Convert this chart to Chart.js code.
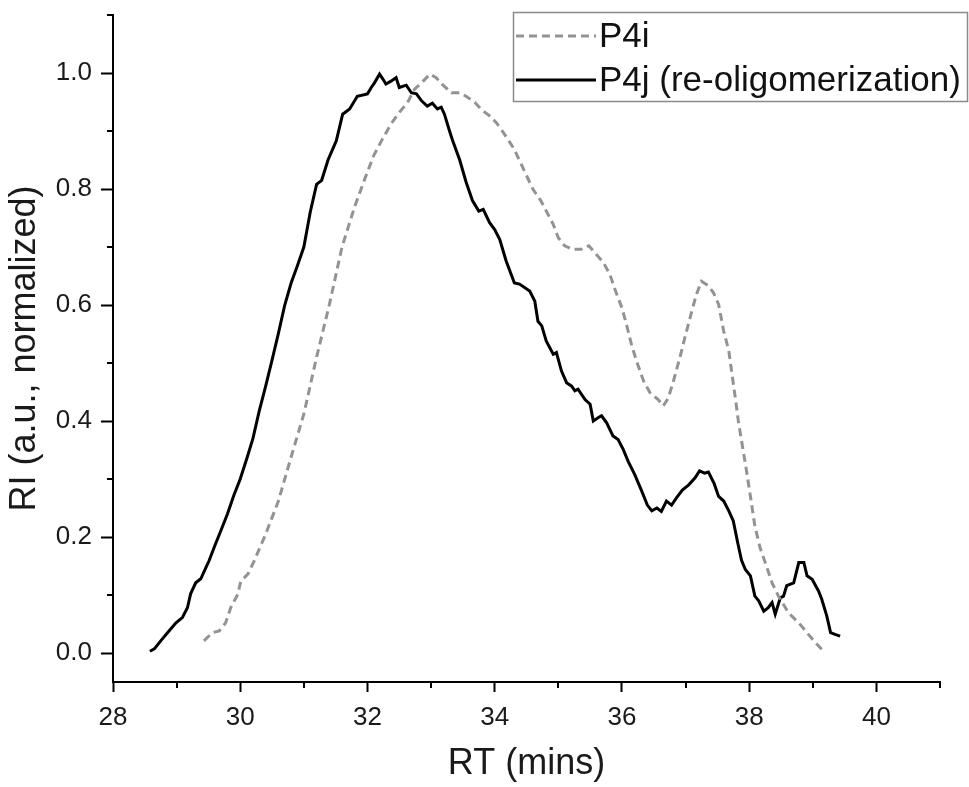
<!DOCTYPE html>
<html>
<head>
<meta charset="utf-8">
<script src="https://cdn.jsdelivr.net/npm/chart.js@4.4.1/dist/chart.umd.min.js"></script>
<style>
  html, body { margin: 0; padding: 0; background: #fff; }
  #wrap { width: 969px; height: 787px; }
</style>
</head>
<body>
<div id="wrap"><canvas id="rt_chart"></canvas></div>
<script>
// P4j (re-oligomerization), solid black
const p4jX = [28.58, 28.65, 28.75, 28.88, 28.99, 29.09, 29.17, 29.22, 29.30, 29.38, 29.46, 29.51,
    29.60, 29.70, 29.80, 29.90, 30.00, 30.10, 30.20, 30.30, 30.40, 30.50, 30.60, 30.70, 30.80, 30.90,
    31.00, 31.10, 31.20, 31.28, 31.38, 31.51, 31.61, 31.72, 31.84, 32.00, 32.06, 32.11, 32.19, 32.24,
    32.29, 32.37, 32.45, 32.50, 32.61, 32.69, 32.77, 32.85, 32.94, 33.02, 33.10, 33.16, 33.21, 33.29,
    33.34, 33.45, 33.55, 33.65, 33.75, 33.82, 33.92, 34.00, 34.08, 34.18, 34.31, 34.39, 34.55, 34.63,
    34.68, 34.74, 34.81, 34.92, 34.97, 35.05, 35.13, 35.21, 35.26, 35.31, 35.42, 35.50, 35.55, 35.63,
    35.68, 35.76, 35.86, 35.94, 36.02, 36.10, 36.20, 36.30, 36.40, 36.47, 36.55, 36.62, 36.70, 36.78,
    36.86, 36.95, 37.05, 37.15, 37.22, 37.30, 37.36, 37.45, 37.52, 37.60, 37.68, 37.75, 37.82, 37.88,
    37.94, 38.02, 38.09, 38.15, 38.23, 38.30, 38.36, 38.41, 38.49, 38.54, 38.59, 38.70, 38.78, 38.86,
    38.91, 38.99, 39.09, 39.14, 39.22, 39.28, 39.35, 39.43];
const p4jY = [0.003, 0.007, 0.021, 0.038, 0.052, 0.061, 0.078, 0.102, 0.121, 0.128, 0.147, 0.159,
    0.185, 0.212, 0.240, 0.272, 0.300, 0.334, 0.370, 0.418, 0.460, 0.505, 0.551, 0.600, 0.638, 0.668,
    0.700, 0.760, 0.808, 0.815, 0.850, 0.883, 0.929, 0.938, 0.960, 0.964, 0.975, 0.983, 0.998, 0.990,
    0.981, 0.986, 0.992, 0.975, 0.979, 0.966, 0.964, 0.952, 0.943, 0.948, 0.938, 0.941, 0.929, 0.900,
    0.883, 0.850, 0.812, 0.780, 0.762, 0.765, 0.742, 0.730, 0.713, 0.676, 0.638, 0.636, 0.624, 0.607,
    0.572, 0.564, 0.538, 0.515, 0.518, 0.486, 0.466, 0.460, 0.452, 0.455, 0.437, 0.429, 0.400, 0.406,
    0.409, 0.397, 0.374, 0.368, 0.351, 0.330, 0.308, 0.282, 0.255, 0.245, 0.250, 0.244, 0.262, 0.255,
    0.268, 0.281, 0.290, 0.302, 0.314, 0.310, 0.312, 0.292, 0.270, 0.262, 0.245, 0.228, 0.190, 0.160,
    0.144, 0.133, 0.098, 0.090, 0.072, 0.078, 0.087, 0.067, 0.095, 0.098, 0.116, 0.121, 0.156, 0.156,
    0.133, 0.127, 0.107, 0.093, 0.064, 0.035, 0.032, 0.029];

// P4i, grey dashed
const p4iX = [29.43, 29.56, 29.67, 29.77, 29.85, 29.96, 30.01, 30.12, 30.22, 30.40, 30.60, 30.80,
    31.00, 31.20, 31.40, 31.60, 31.80, 31.95, 32.10, 32.22, 32.37, 32.50, 32.63, 32.74, 32.85, 32.98,
    33.08, 33.18, 33.32, 33.45, 33.55, 33.69, 33.79, 33.92, 34.03, 34.15, 34.30, 34.45, 34.60, 34.73,
    34.84, 34.92, 35.00, 35.10, 35.23, 35.36, 35.48, 35.60, 35.71, 35.81, 35.89, 36.00, 36.07, 36.15,
    36.23, 36.34, 36.44, 36.57, 36.65, 36.73, 36.81, 36.91, 36.99, 37.10, 37.17, 37.25, 37.36, 37.44,
    37.52, 37.60, 37.68, 37.73, 37.79, 37.83, 37.88, 37.95, 38.02, 38.09, 38.17, 38.28, 38.36, 38.46,
    38.62, 38.78, 38.91, 39.04, 39.17];
const p4iY = [0.021, 0.035, 0.038, 0.052, 0.078, 0.101, 0.124, 0.136, 0.159, 0.205, 0.262, 0.338,
    0.412, 0.510, 0.600, 0.700, 0.770, 0.815, 0.858, 0.883, 0.912, 0.932, 0.949, 0.972, 0.983, 0.998,
    0.992, 0.980, 0.966, 0.966, 0.960, 0.949, 0.937, 0.926, 0.914, 0.895, 0.870, 0.835, 0.800, 0.779,
    0.756, 0.739, 0.716, 0.702, 0.696, 0.696, 0.702, 0.687, 0.673, 0.653, 0.627, 0.595, 0.567, 0.532,
    0.503, 0.469, 0.449, 0.437, 0.426, 0.440, 0.469, 0.509, 0.544, 0.590, 0.618, 0.641, 0.633, 0.621,
    0.601, 0.555, 0.521, 0.481, 0.434, 0.400, 0.366, 0.320, 0.270, 0.219, 0.182, 0.147, 0.121, 0.098,
    0.069, 0.052, 0.035, 0.018, 0.003];

const seriesNames = ['P4i', 'P4j (re-oligomerization)'];
const minorX = [29, 31, 33, 35, 37, 39, 41];
const minorY = [0.1, 0.3, 0.5, 0.7, 0.9, 1.1];

const FONT = "'Liberation Sans', Arial, sans-serif";
const toPoints = (xs, ys) => xs.map((x, i) => ({ x: x, y: ys[i] }));

// minor ticks + framed legend (Origin style)
const extras = {
    id: 'extras',
    afterDraw(chart) {
        const ctx = chart.ctx;
        const xs = chart.scales.x, ys = chart.scales.y;
        const area = chart.chartArea;
        ctx.save();
        ctx.strokeStyle = '#000';
        ctx.lineWidth = 2;
        minorX.forEach(v => {
            const px = Math.round(xs.getPixelForValue(v));
            ctx.beginPath();
            ctx.moveTo(px, area.bottom);
            ctx.lineTo(px, area.bottom + 6);
            ctx.stroke();
        });
        minorY.forEach(v => {
            const py = Math.round(ys.getPixelForValue(v));
            ctx.beginPath();
            ctx.moveTo(area.left, py);
            ctx.lineTo(area.left - 6, py);
            ctx.stroke();
        });

        // legend box
        const ds = chart.data.datasets;
        ctx.strokeStyle = '#8a8a8a';
        ctx.lineWidth = 1.5;
        ctx.strokeRect(513.5, 12.5, 454, 89);
        const rows = [36, 80];
        ctx.font = '35px ' + FONT;
        ctx.textBaseline = 'middle';
        ctx.fillStyle = '#111';
        ds.forEach((d, i) => {
            ctx.strokeStyle = d.borderColor;
            ctx.lineWidth = d.borderWidth;
            ctx.setLineDash(d.borderDash || []);
            ctx.beginPath();
            ctx.moveTo(516, rows[i]);
            ctx.lineTo(596, rows[i]);
            ctx.stroke();
            ctx.setLineDash([]);
            ctx.fillText(d.label, 599, rows[i] + 1);
        });
        ctx.restore();
    }
};

const ctx = document.getElementById('rt_chart').getContext('2d');
const rtChart = new Chart(ctx, {
    type: 'scatter',
    data: {
        datasets: [{
            label: seriesNames[0],
            data: toPoints(p4iX, p4iY),
            showLine: true,
            borderColor: '#939393',
            borderWidth: 3,
            borderDash: [8, 5],
            pointRadius: 0,
            tension: 0
        }, {
            label: seriesNames[1],
            data: toPoints(p4jX, p4jY),
            showLine: true,
            borderColor: '#000000',
            borderWidth: 3,
            pointRadius: 0,
            tension: 0
        }]
    },
    options: {
        responsive: true,
        maintainAspectRatio: false,
        animation: false,
        layout: { padding: { top: 15, right: 29, left: 0, bottom: 0 } },
        plugins: {
            legend: { display: false },
            tooltip: { enabled: false }
        },
        scales: {
            x: {
                type: 'linear',
                min: 28,
                max: 41,
                afterFit: (s) => { s.height = 105; s.paddingLeft = 0; s.paddingRight = 0; },
                ticks: {
                    stepSize: 2,
                    includeBounds: false,
                    padding: 10,
                    color: '#1a1a1a',
                    font: { family: FONT, size: 26 }
                },
                grid: { drawOnChartArea: false, tickLength: 10, tickWidth: 2, tickColor: '#000' },
                border: { color: '#000', width: 2 },
                title: {
                    display: true,
                    text: 'RT (mins)',
                    color: '#1a1a1a',
                    font: { family: FONT, size: 36 },
                    padding: { top: 0, bottom: 1 }
                }
            },
            y: {
                min: -0.05,
                max: 1.1,
                afterFit: (s) => { s.width = 113; s.paddingTop = 0; s.paddingBottom = 0; },
                ticks: {
                    stepSize: 0.2,
                    includeBounds: false,
                    padding: 9,
                    color: '#1a1a1a',
                    font: { family: FONT, size: 26 },
                    callback: (v) => v.toFixed(1)
                },
                grid: { drawOnChartArea: false, tickLength: 12, tickWidth: 2, tickColor: '#000' },
                border: { color: '#000', width: 2 },
                title: {
                    display: true,
                    text: 'RI (a.u., normalized)',
                    color: '#1a1a1a',
                    font: { family: FONT, size: 36 },
                    padding: { top: 3, bottom: 0 }
                }
            }
        }
    },
    plugins: [extras]
});
</script>
</body>
</html>
